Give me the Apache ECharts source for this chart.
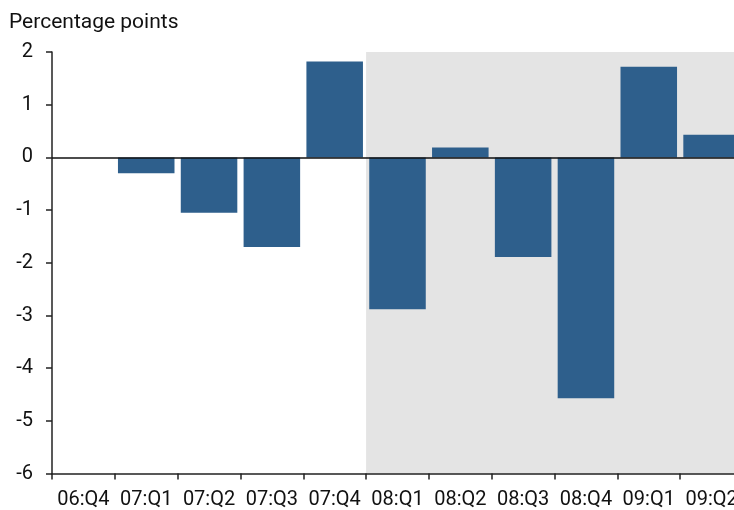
<!DOCTYPE html>
<html>
<head>
<meta charset="utf-8">
<script src="https://cdn.jsdelivr.net/npm/echarts@6/dist/echarts.min.js"></script>
<style>
html,body{margin:0;padding:0;background:#fff;}
#chart{width:734px;height:510px;}
</style>
</head>
<body>
<div id="chart"></div>
<script>
var categories = ['06:Q4','07:Q1','07:Q2','07:Q3','07:Q4','08:Q1','08:Q2','08:Q3','08:Q4','09:Q1','09:Q2'];
var values = [null, -0.30, -1.05, -1.70, 1.82, -2.88, 0.19, -1.89, -4.57, 1.72, 0.43];
var shadeStart = '08:Q1';
var yTicks = [-6, -5, -4, -3, -2, -1, 0, 1, 2];
var unitLabel = 'Percentage points';

var chart = echarts.init(document.getElementById('chart'));
var font = 'Roboto, "Noto Sans", sans-serif';
var startIdx = categories.indexOf(shadeStart);
chart.setOption({
  animation: false,
  title: {
    text: unitLabel, left: 4, top: 7,
    textStyle: {fontFamily: font, fontSize: 21, fontWeight: 'normal', color: '#111'}
  },
  grid: {left: 52, top: 52, width: 691, height: 421.6, containLabel: false, outerBoundsMode: 'none'},
  xAxis: [{
    type: 'category', data: categories, position: 'bottom',
    boundaryGap: true,
    axisLine: {show: true, onZero: false, lineStyle: {color: '#222', width: 1.5}},
    axisTick: {show: true, alignWithLabel: false, length: 6, lineStyle: {color: '#222', width: 1.5}},
    axisLabel: {fontFamily: font, fontSize: 20, color: '#111', margin: 16, interval: 0},
    splitLine: {show: false}, z: 5
  }, {
    type: 'value', min: 0, max: categories.length, show: false,
    axisLine: {onZero: false}, splitLine: {show: false}
  }],
  yAxis: {
    type: 'value', min: yTicks[0], max: yTicks[yTicks.length - 1], interval: 1,
    axisLine: {show: true, lineStyle: {color: '#222', width: 1.5}},
    axisTick: {show: true, length: 6, lineStyle: {color: '#222', width: 1.5}},
    axisLabel: {fontFamily: font, fontSize: 20, color: '#111', margin: 19},
    splitLine: {show: false}
  },
  series: [{
    type: 'line', xAxisIndex: 1, data: [], silent: true, z: 1,
    markArea: {
      silent: true,
      itemStyle: {color: '#e4e4e4'},
      data: [[{xAxis: startIdx, yAxis: yTicks[yTicks.length - 1]}, {xAxis: categories.length, yAxis: yTicks[0]}]]
    }
  }, {
    type: 'bar', xAxisIndex: 0, data: values,
    barCategoryGap: '10%', itemStyle: {color: '#2e5f8c'}, z: 2,
    markLine: {
      silent: true, symbol: 'none', label: {show: false},
      lineStyle: {color: '#111', width: 1.5, type: 'solid'},
      data: [{yAxis: 0}]
    }
  }]
});
</script>
</body>
</html>
